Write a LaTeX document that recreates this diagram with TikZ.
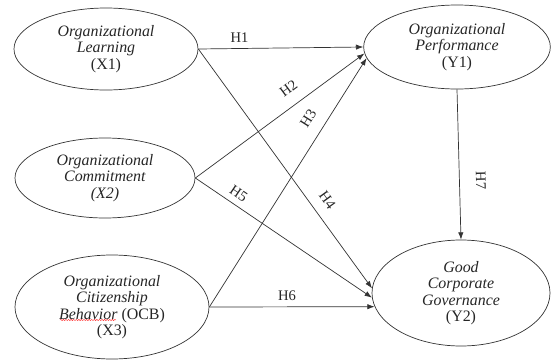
\documentclass[tikz,border=0pt]{standalone}
\usepackage{fontspec}
\setmainfont{Liberation Serif}
\usetikzlibrary{shapes.geometric, arrows.meta, decorations.pathmorphing}

\begin{document}
\begin{tikzpicture}[x=0.03cm, y=-0.03cm, line width=0.6pt, color=black!80,
  latent/.style={ellipse, draw, inner sep=0pt, align=center, text=black!85,
    font=\fontsize{13.6}{14}\selectfont},
  effect/.style={-{Latex[length=2.2mm, width=1.6mm]}},
  hyp/.style={font=\fontsize{12.5}{14}\selectfont, text=black!85, sloped, inner sep=2pt},
  spellwave/.style={red!80, line width=0.4pt, decorate,
    decoration={snake, amplitude=0.5pt, segment length=2.2pt}}]
\useasboundingbox (0,0) rectangle (552,360);

% constructs
\node[latent, minimum width=5.52cm, minimum height=2.46cm] (X1) at (106,49)
  {\textit{Organizational}\\ \textit{Learning}\\ (X1)};
\node[latent, minimum width=5.4cm, minimum height=2.4cm] (X2) at (105,178)
  {\textit{Organizational}\\ \textit{Commitment}\\ \textit{(X2)}};
\node[latent, minimum width=5.82cm, minimum height=3.12cm] (X3) at (112,307)
  {\textit{Organizational}\\ \textit{Citizenship}\\ \textit{Behavior} (OCB)\\ (X3)};
\node[latent, minimum width=5.6cm, minimum height=2.52cm] (Y1) at (457,47)
  {\textit{Organizational}\\ \textit{Performance}\\ (Y1)};
\node[latent, minimum width=5.34cm, minimum height=3.18cm] (Y2) at (461,293)
  {\textit{Good}\\ \textit{Corporate}\\ \textit{Governance}\\ (Y2)};

% spell-check mark under Behavior
\draw[spellwave] ([shift={(-52,13)}]X3.center) -- ([shift={(4,13)}]X3.center);

% hypotheses
\draw[effect] (X1.east) -- node[hyp, pos=0.25, above=3pt] {H1} (Y1.west);
\draw[effect] (X2.east) -- node[hyp, pos=0.61, above=8pt] {H2} (Y1.184);
\draw[effect] (X3.east) -- node[hyp, pos=0.72, above=8pt] {H3} (Y1.187);
\draw[effect] (X1.east) -- node[hyp, pos=0.67, above=7pt] {H4} (Y2.177);
\draw[effect] (X2.east) -- node[hyp, pos=0.21, above=3pt] {H5} (Y2.183);
\draw[effect] (X3.east) -- node[hyp, pos=0.47, above=3pt] {H6} (Y2.189);
\draw[effect] (Y1.south) -- node[hyp, pos=0.61, above=12pt] {H7} (Y2.north);
\end{tikzpicture}
\end{document}
